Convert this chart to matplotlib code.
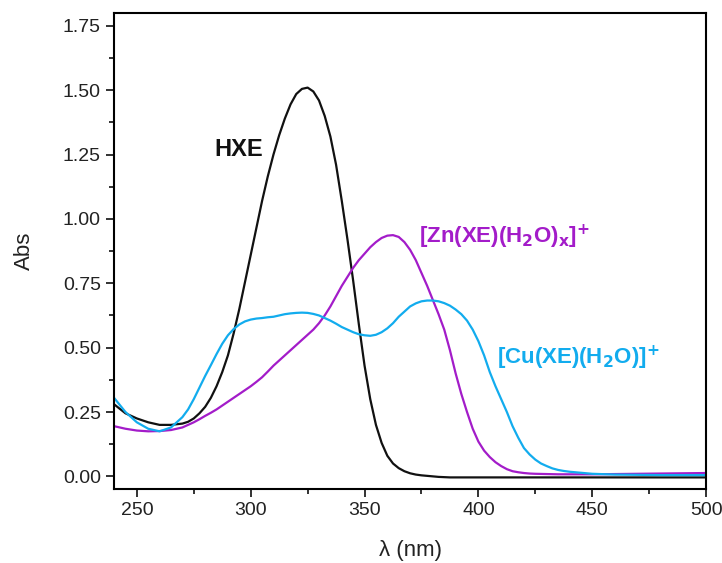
import numpy as np
import matplotlib.pyplot as plt
from matplotlib.ticker import MultipleLocator

plt.rcParams['font.family'] = ['Liberation Sans', 'DejaVu Sans']

# wavelength grid (nm): coarse at the ends, finer over the bands
wl = np.concatenate([np.arange(240, 270, 5),
                     np.arange(270, 440.1, 2.5),
                     np.arange(450, 501, 10)])

# absorbance
hxe = [0.28, 0.245, 0.225, 0.21, 0.20, 0.20,
       0.205, 0.212, 0.225, 0.245, 0.27, 0.305, 0.35, 0.405, 0.47, 0.555,
       0.65, 0.755, 0.86, 0.965, 1.07, 1.165, 1.25, 1.325, 1.39, 1.445,
       1.485, 1.505, 1.51, 1.495, 1.46, 1.40, 1.32, 1.21, 1.07, 0.92,
       0.76, 0.59, 0.43, 0.30, 0.20, 0.13, 0.08, 0.05, 0.032, 0.02,
       0.012, 0.007, 0.004, 0.002, 0.0, -0.002, -0.003, -0.004, -0.004, -0.004,
       -0.004, -0.004, -0.004, -0.004, -0.004, -0.004, -0.004, -0.004, -0.004, -0.004,
       -0.004, -0.004, -0.004, -0.004, -0.004, -0.004, -0.004, -0.004, -0.004,
       -0.004, -0.004, -0.004, -0.004, -0.004, -0.004]
cu = [0.305, 0.25, 0.21, 0.185, 0.175, 0.19,
      0.23, 0.26, 0.30, 0.345, 0.39, 0.432, 0.475, 0.515, 0.548, 0.572,
      0.59, 0.602, 0.609, 0.613, 0.615, 0.618, 0.62, 0.625, 0.63, 0.633,
      0.635, 0.636, 0.635, 0.631, 0.625, 0.615, 0.605, 0.593, 0.58, 0.57,
      0.56, 0.552, 0.548, 0.546, 0.55, 0.56, 0.575, 0.595, 0.62, 0.64,
      0.66, 0.672, 0.68, 0.683, 0.683, 0.68, 0.673, 0.663, 0.648, 0.63,
      0.605, 0.57, 0.525, 0.47, 0.405, 0.35, 0.30, 0.25, 0.195, 0.15,
      0.11, 0.085, 0.065, 0.05, 0.04, 0.031, 0.025, 0.021, 0.018,
      0.01, 0.007, 0.006, 0.005, 0.005, 0.005]
zn = [0.195, 0.185, 0.178, 0.175, 0.176, 0.18,
      0.19, 0.20, 0.21, 0.222, 0.235, 0.247, 0.26, 0.275, 0.29, 0.305,
      0.32, 0.335, 0.35, 0.367, 0.385, 0.407, 0.43, 0.45, 0.47, 0.49,
      0.51, 0.53, 0.55, 0.57, 0.595, 0.625, 0.66, 0.70, 0.74, 0.775,
      0.81, 0.84, 0.865, 0.89, 0.91, 0.926, 0.935, 0.937, 0.93, 0.91,
      0.88, 0.84, 0.79, 0.74, 0.685, 0.63, 0.57, 0.49, 0.40, 0.32,
      0.25, 0.185, 0.135, 0.10, 0.075, 0.055, 0.04, 0.028, 0.02, 0.016,
      0.013, 0.011, 0.01, 0.0095, 0.009, 0.0085, 0.008, 0.008, 0.008,
      0.008, 0.009, 0.01, 0.011, 0.012, 0.013]

black = '#111111'
purple = '#A31CC9'
blue = '#12ACEE'

fig = plt.figure(figsize=(7.22, 5.63), dpi=100)
ax = fig.add_axes([0.158, 0.131, 0.820, 0.846])

ax.plot(wl, hxe, color=black, lw=1.6)
ax.plot(wl, zn, color=purple, lw=1.6)
ax.plot(wl, cu, color=blue, lw=1.6)

ax.text(284, 1.27, 'HXE', color=black, fontsize=17, fontweight='bold', va='center')
ax.text(374, 0.93, r'[Zn(XE)(H$_\mathbf{2}$O)$_\mathbf{x}$]$^\mathbf{+}$', color=purple,
        fontsize=16, fontweight='bold', va='center')
ax.text(408, 0.46, r'[Cu(XE)(H$_\mathbf{2}$O)]$^\mathbf{+}$', color=blue,
        fontsize=16, fontweight='bold', va='center')

ax.set_xlim(240, 500)
ax.set_ylim(-0.05, 1.80)
ax.xaxis.set_major_locator(MultipleLocator(50))
ax.xaxis.set_minor_locator(MultipleLocator(25))
ax.yaxis.set_major_locator(MultipleLocator(0.25))
ax.yaxis.set_minor_locator(MultipleLocator(0.125))
ax.yaxis.set_major_formatter(plt.FuncFormatter(lambda v, p: f'{v:.2f}'))

ax.tick_params(which='both', direction='out', width=1.3, labelsize=14, colors='#222222')
ax.tick_params(which='major', length=6)
ax.tick_params(which='minor', length=3.5)
for s in ax.spines.values():
    s.set_linewidth(1.5)

ax.set_xlabel('λ (nm)', fontsize=16, color='#222222', labelpad=15)
ax.set_ylabel('Abs', fontsize=16, color='#222222', labelpad=20)

fig.savefig('out.png', dpi=100)
